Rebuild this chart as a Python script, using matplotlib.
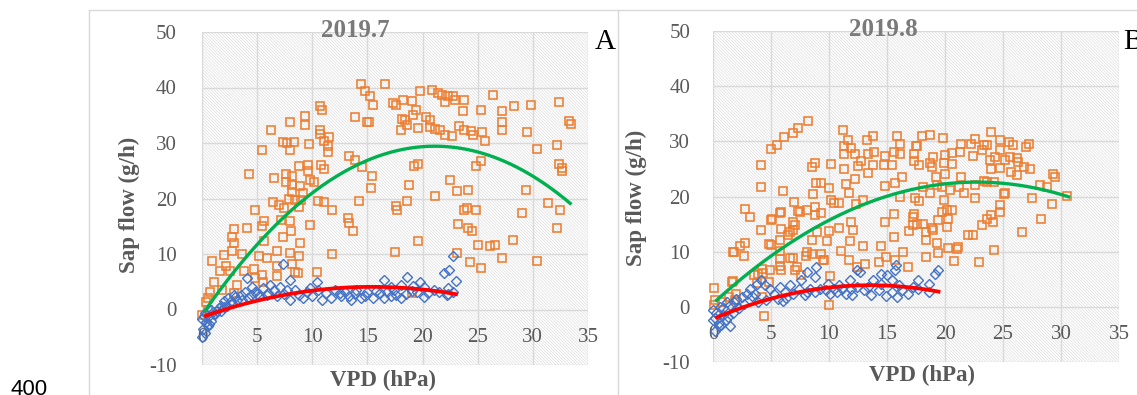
"""
Sap flow vs VPD, July and August 2019 -- two Excel-style scatter panels
with quadratic trendlines (orange/green = one tree, blue/red = the other).
"""
import numpy as np
import matplotlib
matplotlib.use("Agg")
import matplotlib.pyplot as plt
from matplotlib.patches import Rectangle
from matplotlib.lines import Line2D

plt.rcParams["font.family"] = ["Liberation Serif", "DejaVu Serif"]
plt.rcParams["hatch.linewidth"] = 0.45
plt.rcParams["axes.unicode_minus"] = False

GREY, TITLE_GREY, GRID = "#595959", "#7a7a7a", "#d9d9d9"
ORANGE, BLUE, GREEN, RED = "#ED7D31", "#4472C4", "#00B050", "#FF0000"

# ---------------- data: 2019.7 (VPD hPa, sap flow g/h) ----------------
jul_orange = np.array([
    [14.4, 40.7], [16.6, 40.6], [14.8, 39.3], [15.2, 38.4], [15.5, 36.9], [15.1, 33.7], [13.9, 34.7],
    [10.7, 36.7], [10.9, 36.0], [9.3, 34.8], [9.3, 33.3], [8.0, 33.8], [6.3, 32.4], [10.7, 32.4],
    [10.7, 31.6], [11.5, 31.0], [11.1, 30.3], [7.3, 30.2], [8.3, 30.1], [7.7, 30.0], [8.0, 28.7],
    [9.7, 29.9], [5.4, 28.7], [11.4, 29.4], [11.4, 28.4], [4.3, 24.5], [6.5, 23.7], [7.6, 24.4],
    [7.6, 22.9], [8.2, 24.0], [8.8, 25.8], [9.6, 26.1], [9.6, 24.9], [10.8, 26.0], [11.1, 25.4],
    [10.2, 22.9], [8.9, 22.3], [8.2, 22.5], [8.2, 21.1], [7.9, 19.9], [9.2, 21.0], [8.4, 19.8],
    [6.4, 19.4], [7.0, 18.9], [7.4, 18.2], [8.8, 18.5], [9.0, 19.8], [4.8, 17.9], [5.6, 16.0],
    [5.4, 15.0], [4.1, 14.6], [2.9, 14.5], [2.7, 13.1], [2.9, 12.0], [7.2, 16.2], [8.0, 15.9],
    [8.1, 14.2], [7.3, 13.0], [9.8, 15.2], [8.9, 12.0], [10.5, 19.5], [11.1, 19.3], [11.8, 18.0],
    [9.8, 23.3], [5.6, 12.3], [6.8, 10.5], [8.0, 10.2], [8.8, 9.6], [8.2, 8.2], [8.4, 6.7],
    [8.7, 6.6], [6.8, 6.0], [6.8, 7.8], [5.2, 9.7], [5.9, 9.3], [4.7, 7.3], [3.8, 6.9],
    [3.6, 10.0], [2.7, 10.6], [2.0, 9.9], [0.9, 8.7], [1.6, 7.0], [2.5, 6.9], [3.2, 4.4],
    [2.9, 2.9], [0.7, 3.2], [0.5, 2.0], [0.4, 1.4], [0.0, -1.0], [11.8, 10.0], [10.4, 6.7],
    [4.8, 5.7], [5.4, 6.3], [5.5, 4.9], [13.2, 16.4], [13.3, 15.6], [13.7, 14.1], [13.3, 27.6],
    [13.9, 27.0], [14.5, 25.7], [15.4, 24.1], [15.3, 21.9], [14.2, 19.5], [17.5, 10.3], [17.6, 18.6],
    [17.7, 17.9], [18.6, 19.6], [18.8, 22.4], [19.2, 25.9], [19.6, 26.3], [19.6, 12.4], [19.0, 2.9],
    [21.1, 20.5], [22.5, 23.3], [23.1, 21.3], [23.2, 15.4], [23.1, 10.2], [23.8, 17.9], [24.0, 18.2],
    [24.8, 18.0], [24.1, 21.6], [24.1, 14.6], [24.5, 14.1], [24.3, 8.6], [24.8, 25.9], [25.3, 26.7],
    [25.0, 11.7], [25.3, 7.4], [26.1, 11.4], [26.6, 11.6], [27.2, 9.2], [28.2, 12.5], [29.0, 17.4],
    [29.4, 21.5], [30.4, 28.9], [30.4, 8.7], [31.4, 19.1], [32.2, 29.6], [32.2, 14.7], [32.5, 18.0],
    [32.4, 26.2], [32.6, 25.5], [32.6, 24.9], [33.3, 33.9], [33.5, 33.4], [32.4, 37.3], [29.8, 36.9],
    [28.3, 36.7], [29.5, 32.0], [27.2, 35.7], [27.2, 33.8], [27.2, 32.3], [26.4, 38.6], [25.7, 30.3],
    [25.3, 36.0], [25.4, 31.9], [24.6, 31.5], [24.4, 32.1], [23.8, 32.3], [23.8, 37.7], [23.7, 35.7],
    [23.3, 33.0], [22.9, 37.7], [22.8, 38.5], [22.3, 38.5], [21.8, 38.7], [21.4, 39.0], [20.9, 39.5],
    [22.0, 37.3], [22.0, 31.4], [22.7, 31.2], [21.6, 32.4], [21.1, 32.5], [20.7, 32.8], [20.7, 34.2],
    [20.3, 34.7], [19.8, 39.3], [19.4, 35.9], [19.1, 35.1], [19.0, 37.5], [18.6, 33.3], [18.4, 34.2],
    [18.1, 34.4], [18.2, 37.8], [17.6, 36.8], [17.3, 37.2], [18.0, 32.4], [19.6, 32.7], [15.0, 33.8],
    [0.5, 0.0], [1.1, 4.9], [1.8, 3.5], [2.2, 7.8],
])
jul_blue = np.array([
    [22.8, 9.7], [22.4, 7.2], [21.9, 6.6], [23.0, 5.1], [22.3, 3.8], [22.3, 2.8], [18.6, 5.9],
    [16.5, 5.3], [19.8, 5.0], [20.1, 4.1], [20.1, 2.2], [19.5, 3.2], [19.1, 4.2], [18.0, 4.4],
    [18.0, 2.1], [17.6, 2.6], [17.1, 4.1], [17.1, 2.4], [16.5, 2.1], [16.1, 2.9], [15.5, 2.1],
    [15.0, 3.2], [14.4, 2.1], [13.9, 2.9], [13.5, 1.8], [13.0, 3.2], [12.6, 2.4], [12.1, 3.5],
    [11.7, 2.1], [11.2, 2.9], [10.9, 1.8], [10.4, 5.0], [10.5, 3.5], [10.0, 2.4], [9.5, 3.2],
    [9.2, 2.1], [8.8, 2.6], [8.0, 5.3], [8.0, 1.8], [7.7, 3.5], [7.3, 8.2], [7.1, 4.1],
    [6.8, 2.4], [6.5, 3.5], [6.2, 4.4], [5.9, 2.6], [5.5, 3.8], [5.2, 2.4], [4.8, 3.2],
    [4.5, 4.1], [4.2, 2.1], [3.9, 3.2], [4.1, 5.6], [3.6, 1.8], [3.5, 2.6], [3.2, 1.8],
    [2.9, 2.6], [2.7, 1.2], [2.4, 2.1], [2.3, 0.6], [2.0, 1.5], [1.7, 0.6], [1.4, -0.3],
    [1.1, -0.9], [0.8, 0.0], [0.6, -1.2], [0.3, -0.6], [0.0, -1.8], [0.1, -3.6], [0.5, -3.0],
    [0.0, -4.9], [0.3, -4.2], [0.8, -2.1], [1.2, -0.9], [1.7, -0.3], [12.5, 3.0], [13.3, 2.5],
    [14.0, 3.6], [14.8, 2.5], [15.8, 3.4], [16.8, 3.1], [17.4, 3.5], [18.5, 2.8], [19.0, 3.4],
    [20.5, 3.0], [21.0, 3.5], [21.5, 3.1], [9.8, 3.8], [8.4, 3.6], [7.4, 2.8], [6.0, 3.0],
    [5.0, 2.8], [4.4, 2.6], [3.0, 2.2], [2.6, 1.6], [2.0, 0.5], [1.5, 0.2], [1.0, -0.5],
    [0.6, -2.6], [0.4, -2.3], [0.2, -1.2], [22.2, 2.6], [22.8, 3.2],
])
jul_green = [-0.0683, 2.883, -1.0]      # quadratic trendline, highest power first
jul_green_span = [0.2, 33.5]
jul_red = [-0.02285, 0.706, -1.37]
jul_red_span = [0.2, 23.2]

# ---------------- data: 2019.8 ----------------
aug_orange = np.array([
    [8.2, 33.7], [7.3, 32.4], [6.9, 31.5], [6.1, 30.7], [5.5, 29.4], [5.0, 28.7], [4.1, 25.8],
    [4.1, 21.7], [2.8, 17.7], [3.2, 16.2], [4.1, 13.9], [2.3, 11.1], [2.8, 11.6], [1.7, 9.9],
    [2.7, 9.2], [1.6, 4.5], [0.1, 3.5], [0.2, 1.2], [0.1, 0.3], [4.4, -1.7], [10.0, 0.3],
    [6.0, 21.0], [5.0, 15.8], [5.8, 17.0], [5.9, 14.1], [5.8, 12.2], [4.8, 11.3], [5.8, 10.1],
    [5.8, 8.7], [5.8, 7.4], [4.9, 6.7], [4.2, 6.9], [3.9, 5.9], [4.8, 4.5], [6.5, 13.1],
    [6.9, 14.0], [7.0, 19.0], [7.3, 17.4], [6.9, 15.4], [6.9, 8.8], [7.2, 7.2], [8.0, 9.3],
    [8.1, 17.6], [8.5, 25.3], [8.8, 26.0], [8.6, 20.4], [8.9, 22.5], [8.8, 18.1], [8.8, 16.6],
    [9.0, 13.6], [8.5, 12.1], [8.5, 9.6], [9.3, 22.4], [9.3, 17.0], [9.3, 9.6], [9.6, 8.5],
    [10.0, 21.6], [10.2, 25.9], [10.2, 19.4], [10.4, 18.9], [10.0, 13.7], [9.8, 11.9], [10.1, 5.5],
    [10.9, 14.3], [11.0, 10.2], [10.9, 18.8], [11.2, 32.1], [11.3, 29.1], [11.3, 27.7], [11.6, 30.2],
    [11.9, 28.8], [11.3, 24.9], [11.5, 22.3], [11.7, 20.6], [11.9, 15.4], [11.8, 11.9], [12.1, 14.0],
    [12.2, 27.7], [12.2, 23.2], [12.5, 25.6], [12.3, 18.6], [12.8, 26.5], [12.9, 19.4], [12.9, 11.1],
    [13.1, 7.8], [13.3, 30.2], [13.8, 30.9], [13.4, 27.7], [13.9, 28.1], [13.8, 25.8], [13.4, 24.2],
    [14.5, 11.1], [14.3, 8.1], [14.8, 27.3], [14.7, 25.7], [14.8, 21.9], [14.8, 15.4], [14.9, 9.0],
    [15.4, 25.7], [15.6, 28.1], [15.7, 22.5], [15.6, 16.9], [15.6, 12.6], [15.7, 8.4], [15.9, 30.9],
    [16.1, 29.6], [16.1, 27.7], [16.3, 23.6], [16.1, 19.9], [16.4, 9.9], [16.8, 7.2], [16.9, 13.7],
    [17.2, 16.3], [17.3, 16.9], [17.2, 14.9], [17.3, 27.7], [17.3, 26.4], [17.5, 29.1], [0.8, 0.9],
    [1.4, 1.8], [2.0, 2.4], [4.2, 1.8], [1.8, 10.0], [1.7, 4.7], [1.9, 1.2], [4.3, 6.1],
    [5.0, 11.2], [3.5, 5.8], [3.8, 4.3], [5.9, 6.7], [5.9, 17.2], [5.1, 15.9], [6.6, 13.6],
    [7.1, 14.8], [7.5, 17.2], [6.6, 8.8], [7.1, 6.7], [7.6, 5.8], [8.1, 10.0], [9.5, 8.5],
    [11.7, 8.5], [12.4, 7.3],
    [24.0, 31.7], [30.5, 20.1], [29.3, 24.1], [28.3, 16.0], [26.6, 13.5], [22.9, 8.2], [24.2, 10.3],
    [20.8, 8.3], [18.4, 12.1], [18.4, 9.0], [19.3, 11.5], [19.4, 9.8], [20.3, 10.6], [21.0, 10.4],
    [21.1, 10.9], [22.0, 13.0], [22.4, 13.0], [23.2, 14.8], [23.6, 15.9], [24.0, 16.6], [24.1, 15.4],
    [24.7, 17.2], [24.7, 18.5], [20.2, 14.5], [20.3, 16.0], [19.4, 15.7], [19.0, 13.9], [18.0, 31.0],
    [18.7, 31.1], [19.8, 30.6], [17.6, 29.1], [21.4, 29.6], [22.2, 29.6], [22.6, 30.4], [23.6, 29.3],
    [24.7, 30.2], [25.5, 29.9], [25.9, 29.3], [27.2, 29.6], [27.0, 29.0], [21.3, 28.1], [20.6, 27.8],
    [20.0, 27.5], [19.9, 26.0], [19.0, 27.2], [18.7, 26.0], [17.8, 25.7], [22.4, 27.3], [23.2, 28.4],
    [23.4, 29.3], [23.9, 26.7], [24.3, 27.2], [24.7, 28.4], [25.2, 26.6], [25.6, 27.2], [26.2, 26.9],
    [26.3, 26.3], [26.8, 25.4], [27.3, 24.9], [25.7, 24.5], [26.2, 23.9], [24.0, 24.9], [24.7, 25.1],
    [18.1, 21.8], [19.3, 22.1], [19.7, 21.8], [20.4, 21.2], [21.2, 21.8], [21.6, 20.6], [22.6, 19.7],
    [23.6, 22.7], [17.4, 19.7], [17.8, 19.1], [18.7, 20.6], [19.9, 19.4], [20.2, 17.5], [19.7, 17.2],
    [20.6, 17.5], [25.2, 20.6], [27.5, 19.8], [28.2, 22.1], [28.8, 21.8], [17.6, 15.1], [18.4, 13.6],
    [18.9, 14.2], [18.1, 15.1], [29.2, 18.6], [29.5, 23.6], [19.2, 23.5], [20.0, 24.1], [18.9, 25.4],
    [21.4, 23.5], [22.6, 22.0], [23.4, 22.9], [24.2, 22.7], [20.6, 25.9], [25.1, 20.4],
])
aug_blue = np.array([
    [19.4, 6.6], [19.1, 6.0], [18.6, 4.2], [17.7, 4.8], [18.6, 2.7], [17.7, 3.3], [15.8, 7.6],
    [15.7, 6.6], [15.4, 4.8], [15.4, 2.7], [15.0, 5.7], [14.5, 6.0], [14.5, 4.2], [14.3, 3.0],
    [13.8, 4.8], [13.4, 3.6], [13.0, 3.0], [12.7, 6.3], [12.4, 6.6], [12.4, 3.6], [11.9, 3.3],
    [11.8, 4.8], [11.5, 2.4], [11.1, 3.3], [10.7, 2.7], [10.4, 3.3], [10.1, 2.4], [9.7, 3.0],
    [9.2, 3.3], [8.8, 2.7], [8.4, 3.3], [8.1, 2.7], [8.9, 7.3], [8.8, 5.4], [8.1, 6.3],
    [7.6, 4.8], [7.4, 3.3], [6.9, 2.4], [6.6, 3.9], [6.2, 2.7], [5.8, 3.6], [5.3, 2.4],
    [4.9, 3.3], [4.5, 3.9], [4.1, 4.8], [3.8, 4.2], [3.6, 2.4], [3.2, 3.3], [2.9, 2.4],
    [2.5, 1.8], [2.0, 1.5], [1.8, 0.9], [1.5, 0.3], [1.2, 0.9], [0.9, -0.3], [0.6, 0.0],
    [0.3, -1.2], [0.2, -2.1], [0.5, -3.0], [0.7, -3.3], [0.0, -2.4], [0.5, -3.4], [1.5, -3.4],
    [1.1, -2.4], [0.2, -4.3], [0.9, -1.5], [1.7, -1.2], [0.0, -0.6], [16.3, 3.0], [16.8, 2.4],
    [17.2, 3.6], [16.0, 4.0], [12.0, 2.2], [10.9, 4.0], [9.9, 4.2], [7.9, 2.2], [6.3, 1.6],
    [5.6, 1.5], [4.6, 1.2], [3.9, 0.8], [3.4, 1.9], [2.7, 0.6], [2.2, -0.2], [1.3, -1.8],
    [6.0, 1.0], [13.6, 2.2], [14.9, 2.0], [15.9, 1.8],
])
aug_green = [-0.04253, 1.935, 0.6]
aug_green_span = [0.2, 30.8]
aug_red = [-0.03335, 0.9035, -2.2]
aug_red_span = [0.2, 19.6]

X_TICKS = [0, 5, 10, 15, 20, 25, 30, 35]
Y_TICKS = [-10, 0, 10, 20, 30, 40, 50]

W, H = 1137, 395
fig = plt.figure(figsize=(W / 100, H / 100), dpi=100)


def px_box(left, top, right, bottom):
    """pixel box -> figure fraction [l, b, w, h]"""
    return [left / W, 1 - bottom / H, (right - left) / W, (bottom - top) / H]


def panel(rect, orange, blue, green, gspan, red, rspan, title, title_x, ypad, xlab, ylab):
    ax = fig.add_axes(rect)
    ax.set_xlim(0, 35); ax.set_ylim(-10, 50)
    # Excel-style fine diagonal pattern fill of the plot area
    ax.add_patch(Rectangle((0, 0), 1, 1, transform=ax.transAxes, facecolor="white",
                           edgecolor="#dadada", lw=0, hatch="\\" * 11, zorder=0.1))
    ax.set_xticks(X_TICKS); ax.set_yticks(Y_TICKS)
    ax.set_axisbelow(True)
    ax.grid(True, color=GRID, lw=1.0)
    for s in ax.spines.values():
        s.set_visible(False)
    ax.spines["bottom"].set_position(("data", 0))
    ax.tick_params(axis="both", length=0, labelsize=15, labelcolor=GREY)
    ax.tick_params(axis="x", pad=13)
    ax.tick_params(axis="y", pad=ypad)

    ax.plot(orange[:, 0], orange[:, 1], "s", ms=6.3, mfc="none", mec=ORANGE, mew=1.15,
            ls="none", clip_on=False, zorder=3)
    ax.plot(blue[:, 0], blue[:, 1], "D", ms=4.8, mfc="none", mec=BLUE, mew=1.0,
            ls="none", clip_on=False, zorder=4)
    xg = np.linspace(gspan[0], gspan[1], 200)
    ax.plot(xg, np.polyval(green, xg), color=GREEN, lw=2.4, zorder=5, solid_capstyle="butt")
    xr = np.linspace(rspan[0], rspan[1], 200)
    ax.plot(xr, np.polyval(red, xr), color=RED, lw=2.7, zorder=6, solid_capstyle="butt")

    ax.set_xlabel("VPD (hPa)", fontsize=16.5, fontweight="bold", color=GREY)
    ax.set_ylabel("Sap flow (g/h)", fontsize=16.5, fontweight="bold", color=GREY)
    ax.xaxis.set_label_coords(*xlab)
    ax.yaxis.set_label_coords(*ylab)
    ax.text(title_x, 1.006, title, transform=ax.transAxes, ha="center", va="center",
            fontsize=18, fontweight="bold", color=TITLE_GREY, zorder=7)
    return ax


panel(px_box(202, 32, 588, 365), jul_orange, jul_blue, jul_green, jul_green_span,
      jul_red, jul_red_span, "2019.7", 0.396, 18, (0.469, -0.015), (-0.161, 0.48))
panel(px_box(713, 31, 1119, 362), aug_orange, aug_blue, aug_green, aug_green_span,
      aug_red, aug_red_span, "2019.8", 0.419, 16.5, (0.515, -0.009), (-0.163, 0.495))

# panel letters and chart-frame borders (Excel chart areas)
fig.text(605 / W, 1 - 42 / H, "A", ha="center", va="center", fontsize=21, color="black")
fig.text(1123 / W, 1 - 42 / H, "B", ha="left", va="center", fontsize=21, color="black")
for xs, ys in [([89, 89], [10, H]), ([89, W], [10, 10]), ([618, 618], [10, H])]:
    fig.add_artist(Line2D([x / W for x in xs], [1 - y / H for y in ys], color=GRID, lw=1.0))

# stray page text cut off at the bottom edge
fig.text(10 / W, 16 / H, "400", ha="left", va="top", fontsize=16,
         family=["Liberation Sans", "DejaVu Sans"], color="black")

fig.savefig("out.png", dpi=100)
